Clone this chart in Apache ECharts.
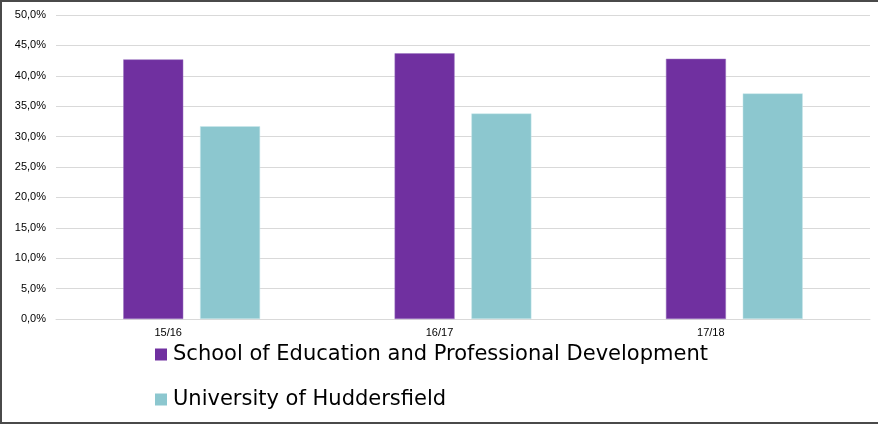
<!DOCTYPE html>
<html>
<head>
<meta charset="utf-8">
<script src="https://cdn.jsdelivr.net/npm/echarts@6/dist/echarts.min.js"></script>
<style>
html,body{margin:0;padding:0;background:#fff;}
#c{width:878px;height:424px;box-sizing:border-box;border-left:2px solid #4a4a4a;border-top:2px solid #4a4a4a;border-bottom:2px solid #4a4a4a;}
</style>
</head>
<body>
<div id="c"></div>
<script>
const categories = ['15/16', '16/17', '17/18'];
const seriesNames = ['School of Education and Professional Development', 'University of Huddersfield'];
const schoolValues = [42.7, 43.7, 42.8];
const universityValues = [31.7, 33.8, 37.1];
const yTicks = [0, 5, 10, 15, 20, 25, 30, 35, 40, 45, 50];

const chart = echarts.init(document.getElementById('c'), null, {renderer: 'canvas'});
chart.setOption({
  animation: false,
  textStyle: {fontFamily: 'Liberation Sans, Arial, sans-serif'},
  grid: {left: 54, right: 8, top: 13, bottom: 103},
  legend: {
    orient: 'vertical',
    left: 148,
    top: 337,
    itemWidth: 12,
    itemHeight: 12,
    itemGap: 24,
    icon: 'rect',
    itemStyle: {borderWidth: 0},
    textStyle: {fontSize: 21, color: '#000', fontFamily: 'DejaVu Sans, sans-serif', padding: [0, 0, 0, 1]},
    data: seriesNames
  },
  xAxis: {
    type: 'category',
    data: categories,
    axisTick: {show: false},
    axisLine: {lineStyle: {color: '#d9d9d9'}},
    axisLabel: {fontSize: 11, color: '#000', margin: 8, padding: [0, 47, 0, 0]}
  },
  yAxis: {
    type: 'value',
    min: yTicks[0],
    max: yTicks[yTicks.length - 1],
    interval: 5,
    axisLine: {show: false},
    axisTick: {show: false},
    splitLine: {lineStyle: {color: '#d9d9d9', width: 1}},
    axisLabel: {
      fontSize: 11, color: '#000', margin: 10,
      formatter: v => v.toFixed(1).replace('.', ',') + '%'
    }
  },
  series: [
    {
      name: seriesNames[0], type: 'bar', data: schoolValues,
      barWidth: 60, barGap: '28%',
      itemStyle: {color: '#7030A0', borderColor: '#9a74c0', borderWidth: 0.5}
    },
    {
      name: seriesNames[1], type: 'bar', data: universityValues,
      barWidth: 60,
      itemStyle: {color: '#8CC7CF', borderColor: '#c8e6ea', borderWidth: 0.5}
    }
  ]
});
</script>
</body>
</html>
